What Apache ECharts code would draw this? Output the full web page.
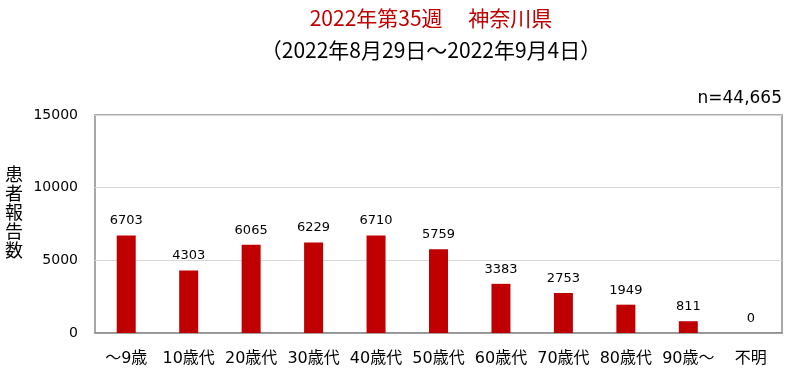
<!DOCTYPE html>
<html><head><meta charset="utf-8">
<script src="https://cdn.jsdelivr.net/npm/echarts@6/dist/echarts.min.js"></script>
<style>html,body{margin:0;padding:0;background:#fff}#c{width:787px;height:371px}</style>
</head><body><div id="c"></div>
<script>
var categories = ['～9歳','10歳代','20歳代','30歳代','40歳代','50歳代','60歳代','70歳代','80歳代','90歳～','不明'];
var values = [6703, 4303, 6065, 6229, 6710, 5759, 3383, 2753, 1949, 811, 0];
var titleText = '2022年第35週　 神奈川県';
var subtitleText = '（2022年8月29日～2022年9月4日）';
var nText = 'n=44,665';
var yAxisTitle = '患者報告数';

var cjk = '"Noto Sans CJK JP", "Noto Sans", sans-serif';
var lat = '"DejaVu Sans", "Noto Sans CJK JP", sans-serif';
var chart = echarts.init(document.getElementById('c'));
chart.setOption({
  animation: false,
  graphic: [
    {type: 'text', x: 431, y: 18, style: {text: titleText, fill: '#C00000', font: '21px ' + cjk, align: 'center', verticalAlign: 'middle'}},
    {type: 'text', x: 431, y: 50, style: {text: subtitleText, fill: '#000', font: '21px ' + cjk, align: 'center', verticalAlign: 'middle'}},
    {type: 'text', right: 5, top: 90, style: {text: nText, fill: '#000', font: '17px ' + lat}},
    {type: 'text', left: 5, top: 165, style: {text: yAxisTitle.split('').join('\n'), fill: '#000', font: '18px ' + cjk, lineHeight: 19}}
  ],
  grid: {left: 95, right: 5, top: 115, bottom: 38, show: true, borderColor: '#8c8c8c', borderWidth: 1.5},
  xAxis: {
    type: 'category', data: categories,
    axisLine: {show: true, lineStyle: {color: '#8c8c8c', width: 1.5}},
    axisTick: {show: false},
    axisLabel: {color: '#000', fontSize: 16, fontFamily: lat, margin: 18, interval: 0}
  },
  yAxis: {
    type: 'value', min: 0, max: 15000, interval: 5000,
    axisLine: {show: false}, axisTick: {show: false},
    splitLine: {lineStyle: {color: '#d9d9d9', width: 1}},
    axisLabel: {color: '#000', fontSize: 14, fontFamily: lat, margin: 17, formatter: function (v) { return String(v); }}
  },
  series: [{
    type: 'bar', data: values, barWidth: 19,
    itemStyle: {color: '#C00000'},
    label: {show: true, position: 'top', distance: 8, color: '#000', fontSize: 13, fontFamily: lat}
  }]
});
</script></body></html>
